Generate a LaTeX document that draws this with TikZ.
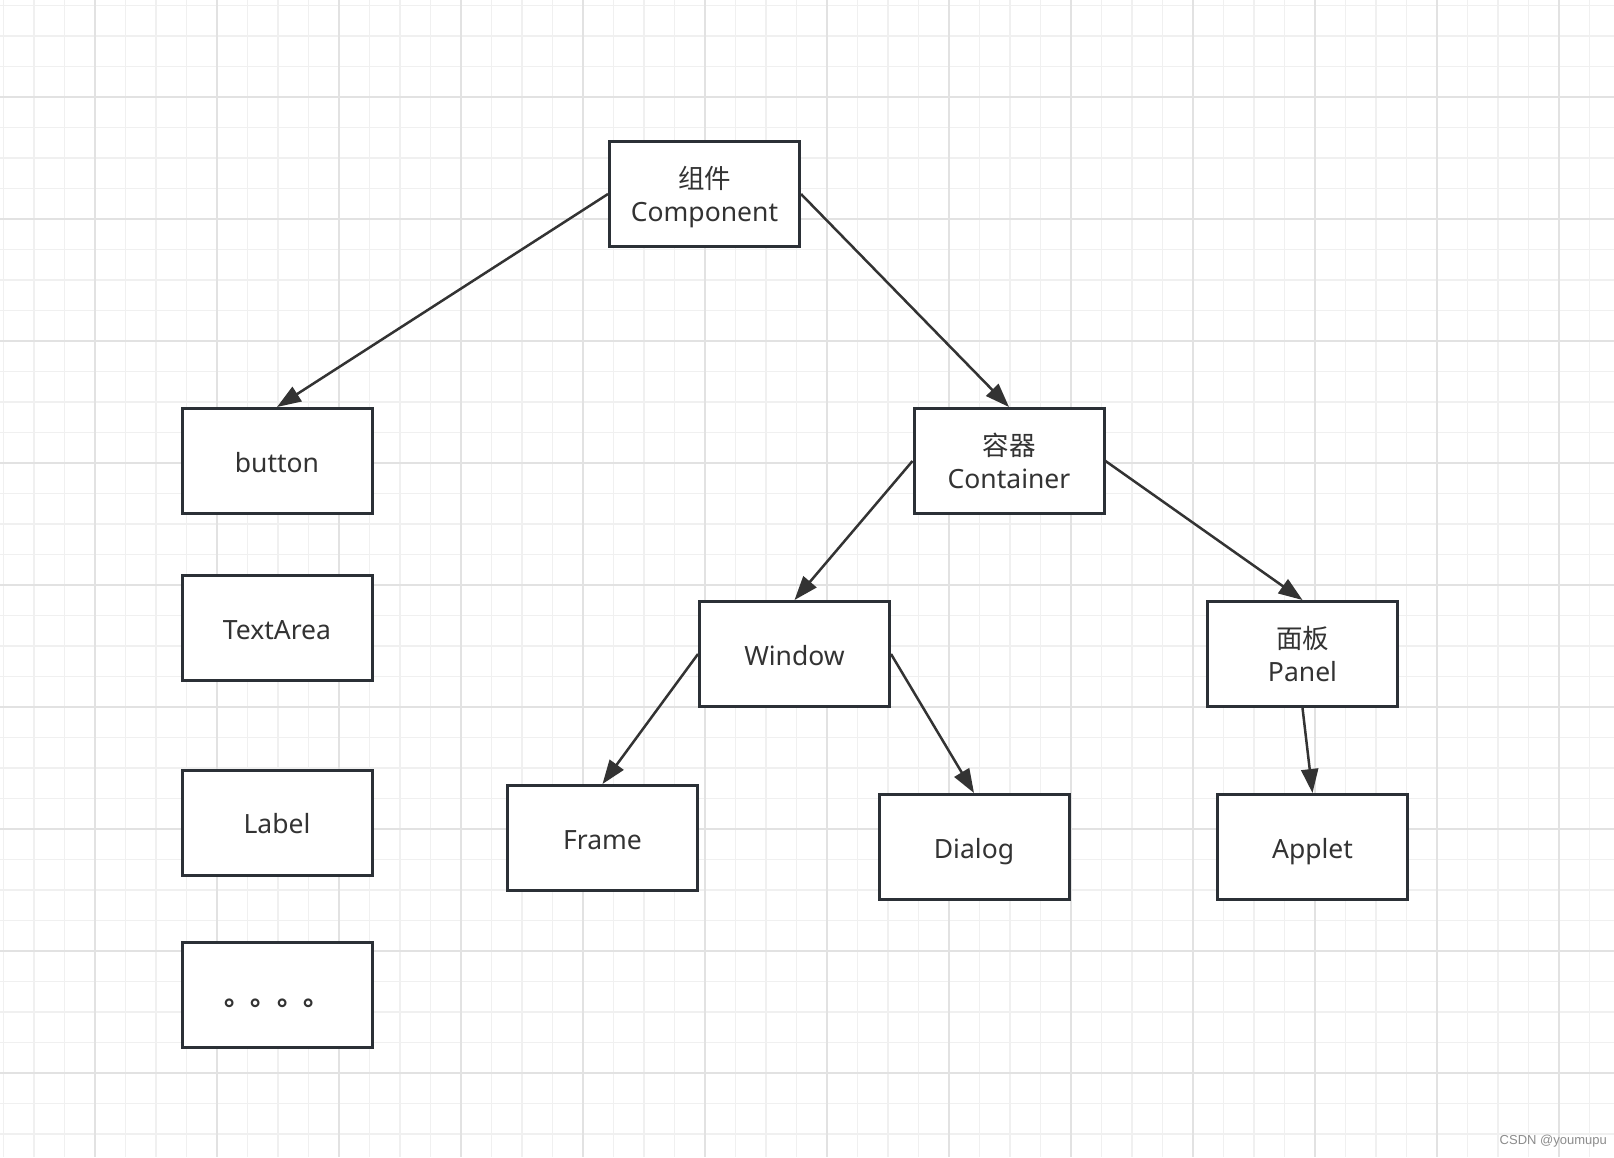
\documentclass[tikz,border=0pt]{standalone}
\usepackage{fontspec}
\setmainfont{Noto Sans}
\newfontfamily\cjk{Noto Sans CJK SC}
\newfontfamily\wmfont{Liberation Sans}
\usetikzlibrary{arrows.meta}
\definecolor{ink}{HTML}{333333}
\definecolor{boxline}{HTML}{2B3036}
\definecolor{minorgrid}{HTML}{F0F0F0}
\definecolor{majorgrid}{HTML}{E2E2E2}
\begin{document}
\begin{tikzpicture}[x=1pt,y=-1pt,
  box/.style={draw=boxline, line width=3pt, fill=white, minimum width=190pt, minimum height=105pt,
    inner sep=0pt, text=ink, font=\fontsize{26.5}{33}\selectfont, text height=25pt, text depth=3pt},
  boxtwo/.style={draw=boxline, line width=3pt, fill=white, minimum width=190pt, minimum height=105pt,
    inner sep=0pt, align=center, text=ink, font=\fontsize{26.5}{33}\selectfont, text depth=0pt},
  link/.style={draw=ink, line width=2.5pt, -{Triangle[length=24pt,width=17pt]}}]
\useasboundingbox (0,0) rectangle (1614,1157);
\fill[white] (0,0) rectangle (1614,1157);
% grid
\foreach \i in {0,...,53} {
  \draw[minorgrid, line width=1.4pt] (3.5+30.5*\i,0) -- (3.5+30.5*\i,1157);
}
\foreach \i in {0,...,38} {
  \draw[minorgrid, line width=1.4pt] (0,5.5+30.5*\i) -- (1614,5.5+30.5*\i);
}
\foreach \i in {0,...,12} {
  \draw[majorgrid, line width=2pt] (95+122*\i,0) -- (95+122*\i,1157);
}
\foreach \i in {0,...,8} {
  \draw[majorgrid, line width=2pt] (0,97+122*\i) -- (1614,97+122*\i);
}
% nodes
\node[boxtwo] (comp) at (704.5,194) {{\cjk 组件}\\Component};
\node[box] (button) at (277,461) {button};
\node[box] (textarea) at (277,628) {TextArea};
\node[box] (label) at (277,822.5) {Label};
\node[box] (more) at (277,994.5) {\cjk\bfseries 。。。。};
\node[boxtwo] (cont) at (1009,461) {{\cjk 容器}\\Container};
\node[box] (window) at (794.5,654) {Window};
\node[boxtwo] (panel) at (1302.5,654) {{\cjk 面板}\\Panel};
\node[box] (frame) at (602.5,838) {Frame};
\node[box] (dialog) at (974,847) {Dialog};
\node[box] (applet) at (1312.5,847) {Applet};
% connectors
\draw[link] (comp.west) -- (button.north);
\draw[link] (comp.east) -- (cont.north);
\draw[link] (cont.west) -- (window.north);
\draw[link] (cont.east) -- (panel.north);
\draw[link] (window.west) -- (frame.north);
\draw[link] (window.east) -- (dialog.north);
\draw[link] (panel.south) -- (applet.north);
% watermark
\node[anchor=east, inner sep=0pt, text=black!45, font=\wmfont\fontsize{13}{15}\selectfont] (wm) at (1607,1141) {CSDN @youmupu};
\end{tikzpicture}
\end{document}
